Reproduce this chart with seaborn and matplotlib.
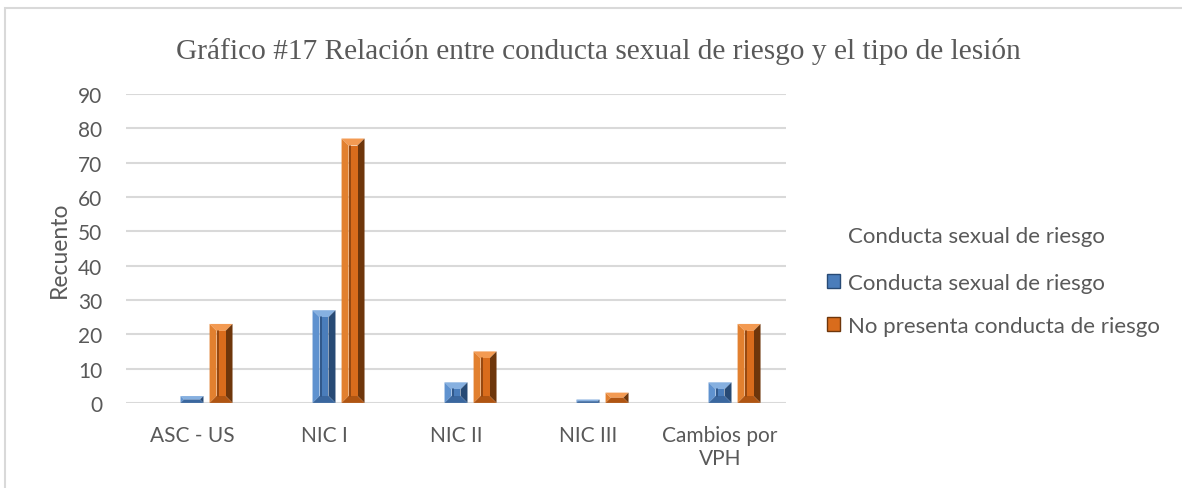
import matplotlib
matplotlib.use("Agg")
import matplotlib.pyplot as plt
from matplotlib.patches import Polygon, Rectangle, Patch
import seaborn as sns
import pandas as pd
import numpy as np

# datos
lesiones = ["ASC - US", "NIC I", "NIC II", "NIC III", "Cambios por\nVPH"]
con_riesgo = [2, 27, 6, 1, 6]
sin_riesgo = [23, 77, 15, 3, 23]
grupos = ["Conducta sexual de riesgo", "No presenta conducta de riesgo"]
yticks = list(range(0, 100, 10))

# excel deja un hueco a la izquierda de cada grupo, se imita con una serie vacia
vacio = [0, 0, 0, 0, 0]

df = pd.DataFrame({
    "lesion": lesiones * 3,
    "grupo": [" "] * 5 + [grupos[0]] * 5 + [grupos[1]] * 5,
    "n": vacio + con_riesgo + sin_riesgo,
})

azul = {"face": "#4a7dbb", "top": "#86b0e0", "left": "#5f92cf", "right": "#274a75",
        "bottom": "#3a679f", "line": "#2d5283"}
naranja = {"face": "#d96c1c", "top": "#f39a52", "left": "#e2802f", "right": "#6e360b",
           "bottom": "#b05512", "line": "#8a430f"}
paleta = {" ": "white", grupos[0]: azul["face"], grupos[1]: naranja["face"]}

sns.set_style("white")
plt.rcParams["font.family"] = ["Lato", "DejaVu Sans"]
gris = "#595959"

fig = plt.figure(figsize=(11.82, 4.89), dpi=100)
ax = fig.add_axes([0.1066, 0.174, 0.5584, 0.632])

sns.barplot(data=df, x="lesion", y="n", hue="grupo", order=lesiones,
            hue_order=[" "] + grupos, palette=paleta, width=0.66, gap=0.21,
            errorbar=None, legend=False, ax=ax, linewidth=0, saturation=1)

ax.set_ylim(0, 90)
ax.set_xlim(-0.5, len(lesiones) - 0.5)
ax.set_yticks(yticks)
ax.yaxis.grid(True, color="#d9d9d9", linewidth=1.5)
ax.set_axisbelow(True)
for s in ax.spines.values():
    s.set_visible(False)
ax.axhline(0, color="#d9d9d9", linewidth=1.8, zorder=1)
ax.tick_params(axis="both", length=0, labelsize=15, colors=gris)
ax.tick_params(axis="x", pad=16)
ax.tick_params(axis="y", pad=17)
ax.set_xlabel("")
ax.set_ylabel("Recuento", fontsize=16.5, color=gris, labelpad=6)

# bisel de cada barra, calculado en pixeles a partir del rectangulo de seaborn
to_px = ax.transData.transform
to_data = ax.transData.inverted().transform
b = 7.0
for patch in list(ax.patches):
    h = patch.get_height()
    if h <= 0:
        continue
    fc = patch.get_facecolor()
    est = azul if abs(fc[2] - 0.73) < 0.1 else naranja
    x0, y0 = patch.get_x(), patch.get_y()
    (px0, py0) = to_px((x0, y0))
    (px1, py1) = to_px((x0 + patch.get_width(), y0 + h))
    bb = min(b, (px1 - px0) / 2, (py1 - py0) / 2)
    ix0, ix1, iy0, iy1 = px0 + bb, px1 - bb, py0 + bb, py1 - bb
    caras = [
        ([(px0, py1), (px1, py1), (ix1, iy1), (ix0, iy1)], est["top"]),
        ([(px0, py0), (ix0, iy0), (ix0, iy1), (px0, py1)], est["left"]),
        ([(px1, py0), (px1, py1), (ix1, iy1), (ix1, iy0)], est["right"]),
        ([(px0, py0), (px1, py0), (ix1, iy0), (ix0, iy0)], est["bottom"]),
        ([(ix0, iy0), (ix1, iy0), (ix1, iy1), (ix0, iy1)], est["face"]),
    ]
    for pts, c in caras:
        ax.add_patch(Polygon(to_data(np.array(pts)), closed=True, facecolor=c,
                             edgecolor="none", zorder=3))
    if iy1 - iy0 > 2:
        linea = to_data(np.array([(ix0 + 1, iy0), (ix0 + 1, iy1)]))
        ax.plot(linea[:, 0], linea[:, 1], color=est["line"], linewidth=1.2, zorder=4)
    patch.set_visible(False)

fig.text(0.506, 0.894,
         "Gráfico #17 Relación entre conducta sexual de riesgo y el tipo de lesión",
         ha="center", va="center", fontsize=21.2, color=gris, family=["Liberation Serif"])

# leyenda a la derecha
fig.text(0.7175, 0.515, "Conducta sexual de riesgo", fontsize=16, color=gris,
         ha="left", va="center")
handles = [Patch(facecolor=azul["face"], edgecolor=azul["right"]),
           Patch(facecolor=naranja["face"], edgecolor=naranja["right"])]
fig.legend(handles, grupos, loc="upper left", bbox_to_anchor=(0.692, 0.458),
           frameon=False, fontsize=16, labelcolor=gris, handlelength=0.6,
           handleheight=0.6, handletextpad=0.35, labelspacing=1.05, borderaxespad=0)

fig.patches.append(Rectangle((5 / 1182, -0.05), 1.2, 1.05 - 9 / 489, transform=fig.transFigure,
                             fill=False, edgecolor="#d9d9d9", linewidth=1.5))

fig.savefig("out.png", dpi=100)
